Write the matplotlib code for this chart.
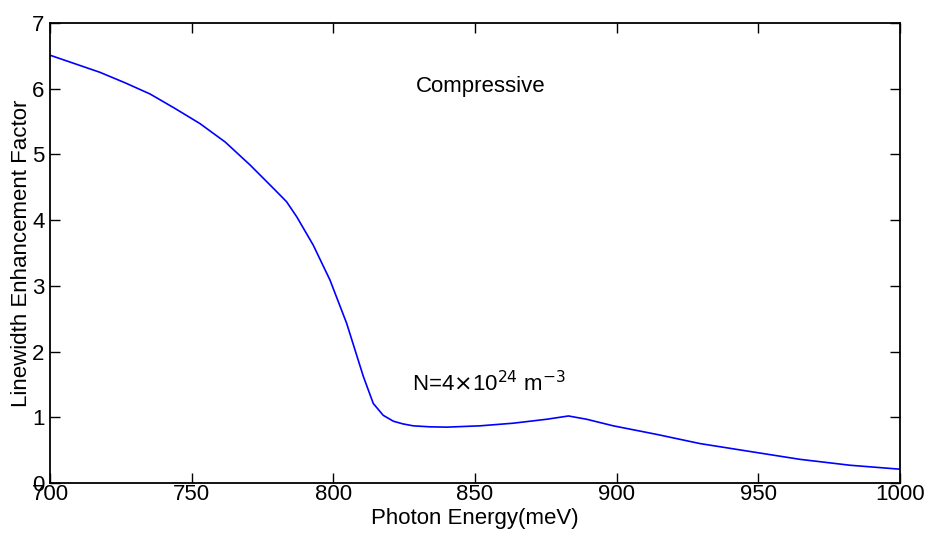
import matplotlib.pyplot as plt

plt.rcParams['font.family'] = ['Liberation Sans', 'DejaVu Sans']

# curve
energy = [700, 708.8, 717.6, 726.5, 735.3, 744.1, 752.9, 761.8, 770.6, 779.4,
          783.5, 787.1, 792.9, 798.8, 804.7, 810.6, 814.1, 817.6, 821.2, 824.5,
          828.2, 834, 840, 851.8, 863.5, 875.3, 883, 889.4, 898.8, 914.1,
          929.4, 947, 964.7, 982.4, 1000]
alpha = [6.51, 6.38, 6.25, 6.09, 5.92, 5.70, 5.47, 5.19, 4.84, 4.46,
         4.28, 4.05, 3.62, 3.09, 2.43, 1.62, 1.21, 1.03, 0.94, 0.90,
         0.87, 0.855, 0.85, 0.87, 0.91, 0.97, 1.02, 0.97, 0.87, 0.74,
         0.60, 0.48, 0.36, 0.27, 0.21]

x_ticks = [700, 750, 800, 850, 900, 950, 1000]
y_ticks = [0, 1, 2, 3, 4, 5, 6, 7]

fig = plt.figure(figsize=(9.28, 5.39), dpi=100)
ax = fig.add_axes([50 / 928, 56 / 539, 850 / 928, 460 / 539])

ax.plot(energy, alpha, color="blue", linewidth=1.2)

ax.set_xlim(700, 1000)
ax.set_ylim(0, 7)
ax.set_xticks(x_ticks)
ax.set_yticks(y_ticks)
ax.tick_params(direction="in", length=7, width=1, labelsize=16,
               top=True, right=True)
ax.tick_params(axis="x", pad=1)
ax.tick_params(axis="y", pad=4)
for s in ax.spines.values():
    s.set_linewidth(1.3)

ax.set_xlabel("Photon Energy(meV)", fontsize=16, labelpad=2)
ax.set_ylabel("Linewidth Enhancement Factor", fontsize=16, labelpad=0)

ax.text(852, 6.04, "Compressive", fontsize=16, ha="center", va="center")
ax.text(855, 1.52, r"N=4$\times$10$^{24}$ m$^{-3}$", fontsize=16,
        ha="center", va="center")

fig.savefig("out.png", dpi=100)
